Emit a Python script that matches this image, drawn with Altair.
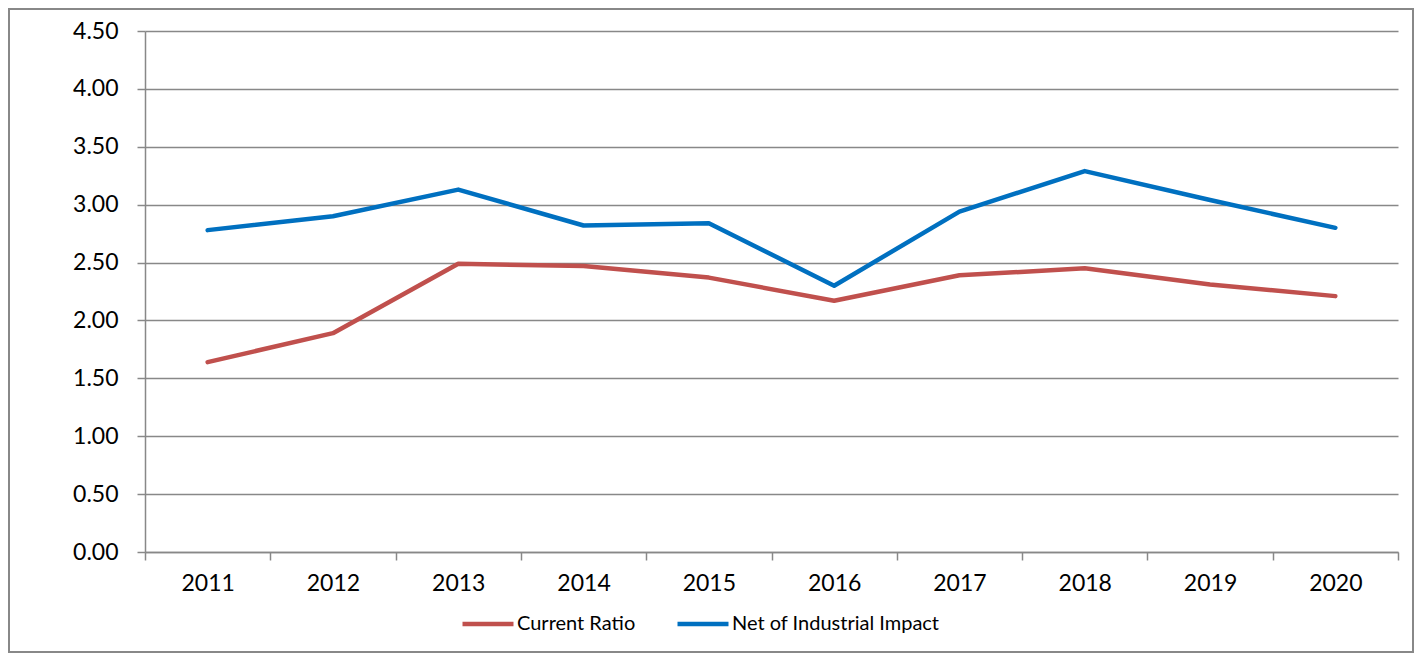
import altair as alt
import pandas as pd

years = ["2011", "2012", "2013", "2014", "2015", "2016", "2017", "2018", "2019", "2020"]
current_ratio = [1.64, 1.89, 2.49, 2.47, 2.37, 2.17, 2.39, 2.45, 2.31, 2.21]
net_industrial = [2.78, 2.90, 3.13, 2.82, 2.84, 2.30, 2.94, 3.29, 3.04, 2.80]
series_names = ["Current Ratio", "Net of Industrial Impact"]
series_colors = ["#C0504D", "#0070C0"]
y_ticks = [0, 0.5, 1, 1.5, 2, 2.5, 3, 3.5, 4, 4.5]

rows = []
for name, vals in zip(series_names, [current_ratio, net_industrial]):
    for y, v in zip(years, vals):
        rows.append({"Year": y, "Value": v, "Series": name})
df = pd.DataFrame(rows)

FONT = "Lato"
W, H = 1253, 521

lines = alt.Chart(df).mark_line(strokeWidth=4.5, strokeCap="round", strokeJoin="round").encode(
    x=alt.X("Year:O", sort=years, bandPosition=0.5,
            scale=alt.Scale(type="band", paddingInner=0, paddingOuter=0),
            axis=alt.Axis(title=None, labelAngle=0, tickBand="extent", tickSize=8,
                          labelPadding=12, domainColor="#888888", domainWidth=1.5,
                          tickColor="#888888", tickWidth=1.5, grid=False,
                          labelFont=FONT, labelFontSize=23, labelColor="#000000")),
    y=alt.Y("Value:Q", scale=alt.Scale(domain=[0, 4.5], nice=False),
            axis=alt.Axis(title=None, values=y_ticks, format=".2f", tickSize=8,
                          labelPadding=19, domainColor="#888888", domainWidth=1.5,
                          tickColor="#888888", tickWidth=1.5, grid=True,
                          gridColor="#888888", gridWidth=1.5,
                          labelFont=FONT, labelFontSize=23, labelColor="#000000")),
    color=alt.Color("Series:N", sort=series_names,
                    scale=alt.Scale(domain=series_names, range=series_colors),
                    legend=alt.Legend(title=None, orient="none", direction="horizontal",
                                      legendX=315, legendY=565,
                                      symbolType="stroke", symbolSize=2600,
                                      symbolStrokeWidth=4.5, labelOffset=1,
                                      columnPadding=32, labelLimit=500, labelFont=FONT,
                                      labelFontSize=20, labelColor="#000000")),
)

border = alt.Chart(pd.DataFrame({"b": [0]})).mark_rect(
    filled=False, stroke="#888888", strokeWidth=2
).encode(
    x=alt.value(-136), x2=alt.value(W + 15),
    y=alt.value(-22), y2=alt.value(H + 100),
)

chart = alt.layer(lines, border).properties(
    width=W, height=H,
    autosize=alt.AutoSizeParams(type="none"),
    padding={"left": 137, "top": 23, "right": 16, "bottom": 101},
    background="#ffffff",
).configure_view(strokeWidth=0)

chart.save("out.html", embed_options={"renderer": "svg", "actions": False})
